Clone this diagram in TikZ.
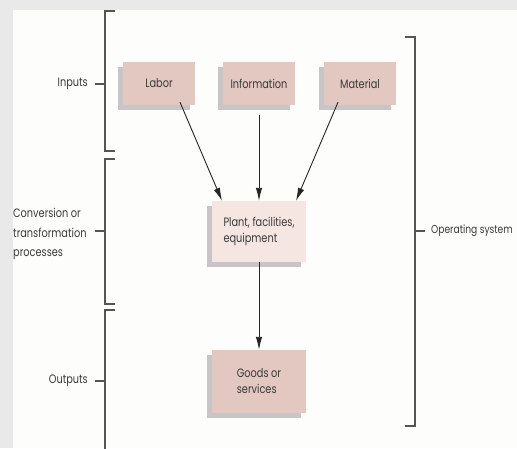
\documentclass[tikz,border=0pt]{standalone}
\usepackage{fontspec}
\setmainfont{Poppins}[FakeStretch=0.8]
\usetikzlibrary{arrows.meta,shadows,calc}
\definecolor{bggray}{HTML}{E9E9E9}
\definecolor{paper}{HTML}{FDFDFB}
\definecolor{boxpink}{HTML}{E3C7C1}
\definecolor{boxlight}{HTML}{F6E6E2}
\definecolor{shadowgray}{HTML}{C9C5C6}
\definecolor{linegray}{HTML}{555555}
\definecolor{textgray}{HTML}{3A3A3A}
\tikzset{
  pinkbox/.style={fill=boxpink, inner sep=2pt, text=textgray,
    font=\fontsize{12.2}{16}\selectfont,
    drop shadow={shadow xshift=-5pt, shadow yshift=-5pt, fill=shadowgray, opacity=1}},
  lightbox/.style={pinkbox, fill=boxlight},
  flow/.style={draw=black!85, line width=0.9pt, -{Latex[length=13pt,width=6.5pt]}},
  brace/.style={draw=linegray, line width=1.1pt},
  lbl/.style={text=textgray, font=\fontsize{12.2}{19.5}\selectfont, inner sep=0pt}
}
\begin{document}
\begin{tikzpicture}[x=1pt,y=-1pt]
\useasboundingbox (0,0) rectangle (517,448);
\clip (0,0) rectangle (517,448);
\fill[bggray] (0,0) rectangle (517,448);
\fill[paper] (13,10) rectangle (517,448);

% boxes
\node[pinkbox, minimum width=72pt, minimum height=43pt] (labor) at (159,83.5) {Labor};
\node[pinkbox, minimum width=72pt, minimum height=43pt] (info) at (259,83.5) {Information};
\node[pinkbox, minimum width=72pt, minimum height=43pt] (mat) at (360,83.5) {Material};
\node[lightbox, minimum width=94pt, minimum height=61pt, align=left] (plant) at (259,231.5) {Plant, facilities,\\equipment};
\node[pinkbox, minimum width=94pt, minimum height=63pt, align=left] (goods) at (259,381.5) {Goods or\\services};

% connectors
\draw[flow] ($(labor.south)+(21,-3)$) -- ($(plant.north)+(-37,0)$);
\draw[flow] ($(info.south)+(0,10)$) -- (plant.north);
\draw[flow] ($(mat.south)+(-22,-3)$) -- ($(plant.north)+(37,0)$);
\draw[flow] (plant.south) -- (goods.north);

% left brackets
\draw[brace] (115,11) -- (105,11) -- (105,151) -- (115,151);
\draw[brace] (115,159) -- (105,159) -- (105,304) -- (115,304);
\draw[brace] (115,310) -- (105,310) -- (105,460);
\coordinate (tin) at (105,84);
\coordinate (tconv) at (105,231);
\coordinate (tout) at (105,381);
\node[lbl, anchor=east] (inputs) at (88,84) {Inputs};
\node[lbl, anchor=west, align=left] (conv) at (13,234) {Conversion or\\transformation\\processes};
\node[lbl, anchor=east] (outputs) at (88,381) {Outputs};
\draw[brace] ($(inputs.east)+(7,0)$) -- (tin);
\draw[brace] (95,231) -- (tconv);
\draw[brace] ($(outputs.east)+(7,0)$) -- (tout);

% right bracket
\draw[brace] (405,37) -- (415,37) -- (415,426) -- (405,426);
\coordinate (tsys) at (415,231);
\node[lbl, anchor=west, font=\fontsize{11.4}{14}\selectfont] (opsys) at (431,231) {Operating system};
\draw[brace] (tsys) -- ($(opsys.west)+(-6,0)$);
\end{tikzpicture}
\end{document}
